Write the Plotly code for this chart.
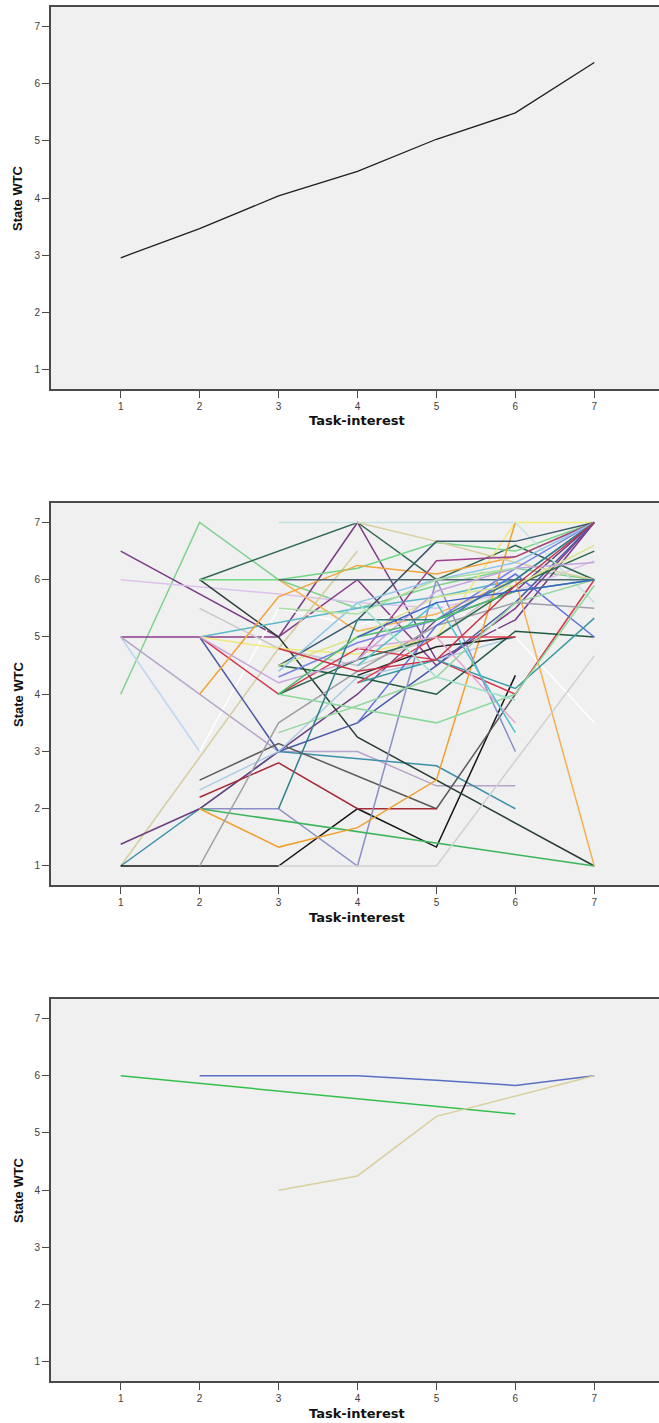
import plotly.graph_objects as go

# ---- panel 1: mean profile ----
mean_x = [1, 2, 3, 4, 5, 6, 7]
mean_y = [2.96, 3.47, 4.04, 4.47, 5.03, 5.49, 6.37]

# ---- panel 2: individual learner profiles (task-interest -> state WTC) ----
ind_x = [
    [1, 2, 3, 4, 5, 6, 7],
    [1, 3, 4, 5, 6, 7],
    [1, 3, 4, 5, 6, 7],
    [1, 2, 3, 4, 5, 6, 7],
    [1, 2],
    [2, 3, 4, 5, 6, 7],
    [1, 3, 4, 5, 6],
    [1, 3, 4],
    [1, 3, 5, 6],
    [1, 2, 3, 4, 5, 6, 7],
    [1, 3, 4, 5, 6],
    [2, 3, 4, 7],
    [2, 4, 5, 6, 7],
    [2, 3, 4, 5, 6, 7],
    [2, 3, 4, 5, 6, 7],
    [2, 3, 4, 5, 6, 7],
    [2, 3, 4, 5, 6, 7],
    [2, 3, 4, 5, 6, 7],
    [2, 3, 4, 5, 6, 7],
    [2, 3, 4, 5, 6, 7],
    [2, 3, 5, 6],
    [2, 3, 4, 5, 6],
    [2, 3, 4, 5],
    [2, 3, 4, 5, 6],
    [2, 3, 4, 5, 6, 7],
    [2, 3, 4, 5, 6],
    [3, 4, 5, 6, 7],
    [3, 4, 5, 7],
    [2, 3, 4, 5, 6, 7],
    [3, 4, 5, 6, 7],
    [4, 5, 6, 7],
    [3, 4, 5, 6, 7],
    [4, 5, 6, 7],
    [3, 4, 5, 6, 7],
    [3, 4, 5, 6, 7],
    [3, 4, 5, 6, 7],
    [4, 5, 6, 7],
    [4, 5, 6, 7],
    [3, 4, 5, 6, 7],
    [4, 5, 6],
    [4, 5, 6],
    [4, 5, 6],
    [4, 5, 6],
    [3, 4, 5, 6, 7],
    [3, 4, 5, 6, 7],
    [3, 4, 5, 6, 7],
    [3, 4, 5, 6, 7],
    [3, 4, 5, 6, 7],
    [2, 3, 4, 5, 6, 7],
    [3, 4, 5, 6, 7],
    [4, 5, 6, 7],
    [3, 4, 5, 6, 7],
    [4, 5, 6],
    [3, 4, 5, 6],
]
ind_y = [
    [4, 7, 6, 5.5, 5.9, 6.2, 6],
    [6.5, 5, 7, 4.6, 5.3, 7],
    [6, 5.75, 5.6, 5.5, 5.8, 6.33],
    [5, 5, 5, 6, 4.5, 5.5, 7],
    [5, 3],
    [3, 5.5, 5.2, 5.6, 5, 3.5],
    [5, 3, 3, 2.4, 2.4],
    [1, 4.8, 6.5],
    [1, 3, 2.75, 2],
    [1.38, 2, 3, 4, 5.3, 5.8, 7],
    [1, 1, 2, 1.33, 4.33],
    [6, 5, 3.25, 1],
    [6, 7, 6, 6.6, 6],
    [6, 6, 6.2, 6.65, 6.5, 7],
    [5.5, 4.8, 4.5, 5, 6, 7],
    [5, 5.25, 5.5, 5.7, 6, 7],
    [5, 4.8, 4.7, 5, 7, 7],
    [5, 4, 4.8, 4.6, 4, 6],
    [5, 3, 3.5, 4.5, 5.6, 7],
    [4, 5.7, 6.25, 6.1, 6.4, 7],
    [2.5, 3.14, 2, 4],
    [2.33, 3, 4.3, 4.6, 5],
    [2.2, 2.8, 2, 2],
    [2, 2, 1, 6, 3],
    [2, 1.8, 1.6, 1.4, 1.2, 1],
    [2, 1.33, 1.67, 2.5, 7],
    [6, 5.1, 5.4, 6, 1],
    [1, 1, 1, 4.67],
    [1, 3.5, 4.4, 5.2, 5.6, 5.5],
    [7, 7, 7, 7, 5.6],
    [7, 6.67, 6.3, 6],
    [4.5, 5.3, 6.67, 6.67, 7],
    [4.6, 6.33, 6.4, 7],
    [6, 6, 6, 6, 6],
    [4, 4.6, 5, 5.9, 6.5],
    [4.5, 4.3, 4, 5.1, 5],
    [3.5, 5.2, 6.1, 5],
    [4.2, 4.6, 4.1, 5.33],
    [4, 3.75, 3.5, 4, 5.9],
    [4.33, 4.83, 5],
    [4.2, 5, 5],
    [4.8, 5, 3.5],
    [4.5, 5.6, 3.33],
    [3.33, 3.8, 4.3, 5.6, 6],
    [4.3, 4.9, 5.3, 6.2, 7],
    [4.5, 5, 5.7, 5.9, 6.6],
    [4.4, 5.6, 6, 6.3, 7],
    [2, 5.3, 5.3, 6, 7],
    [5, 4.2, 4.6, 5.8, 6.2, 6.3],
    [4, 5, 5.3, 5.8, 6],
    [5, 5.6, 5.8, 6],
    [4.8, 4.4, 4.6, 5.9, 7],
    [5.6, 4.3, 3.9],
    [5.5, 5.4, 6, 6.2],
]

# ---- panel 3: selected learners ----
sel_x = [[2, 3, 4, 5, 6, 7], [1, 6], [3, 4, 5, 7]]
sel_y = [[6, 6, 6, 5.92, 5.83, 6], [6, 5.33], [4, 4.25, 5.29, 6]]

X_TICKS = [1, 2, 3, 4, 5, 6, 7]
Y_TICKS = [1, 2, 3, 4, 5, 6, 7]

ind_colors = [
    "#7fd28e", "#7a3c88", "#dcc3ec", "#8a3b8c", "#bcd6ee", "#ffffff",
    "#b4a4c8", "#d4cd9c", "#3a8fa8", "#6e3f82", "#151515", "#2a3d36",
    "#2f6650", "#6fd684", "#c8c8c8", "#5bb8c6", "#efe97a", "#d6354a",
    "#4a5aa8", "#f2a33a", "#5a5a5a", "#a9cde5", "#a52a38", "#8a8fc8",
    "#3ab55a", "#f0a030", "#f5b050", "#d0d0d0", "#9e9ea8", "#c2e2e2",
    "#d7cf9e", "#3c5a6e", "#a0418f", "#4a6670", "#2e6b4f", "#1f5a40",
    "#5a6ee0", "#3a9aa3", "#8bd99b", "#262626", "#e0404f", "#e2a8d0",
    "#4fc0d0", "#96d6a2", "#7b84e6", "#d8e68a", "#8fc6ea", "#2f7f8a",
    "#c4a6df", "#4cc06a", "#3d63c8", "#c8324a", "#9fe0c8", "#a8e0a0",
]
sel_colors = ["#5a6fc4", "#35c04c", "#d8d09e"]

BG = "#f0f0f0"
AXIS = "#4a4a4a"

fig = go.Figure()

fig.add_trace(go.Scatter(x=mean_x, y=mean_y, mode="lines",
                         line=dict(color="#1e1e1e", width=1.3),
                         xaxis="x", yaxis="y", showlegend=False))

for xs, ys, c in zip(ind_x, ind_y, ind_colors):
    fig.add_trace(go.Scatter(x=xs, y=ys, mode="lines",
                             line=dict(color=c, width=1.5),
                             xaxis="x2", yaxis="y2", showlegend=False))

for xs, ys, c in zip(sel_x, sel_y, sel_colors):
    fig.add_trace(go.Scatter(x=xs, y=ys, mode="lines",
                             line=dict(color=c, width=1.5),
                             xaxis="x3", yaxis="y3", showlegend=False))

H = 1423
TOP, BOT = 7, 42
span = H - TOP - BOT


def dom(top_px, bot_px):
    return [(H - BOT - bot_px) / span, (H - BOT - top_px) / span]


domains = [dom(7, 389), dom(503, 885), dom(999, 1381)]

tick_font = dict(family="Liberation Sans, Arial, sans-serif", size=10, color="#404040")

for i, d in enumerate(domains, start=1):
    sx = "" if i == 1 else str(i)
    fig.update_layout(**{
        f"xaxis{sx}": dict(
            domain=[0, 1], anchor=f"y{sx}", range=[0.117, 7.82],
            tickvals=X_TICKS, ticks="outside", ticklen=7, tickwidth=1.3,
            tickcolor=AXIS, showline=True, linecolor=AXIS, linewidth=2,
            mirror=True, showgrid=False, zeroline=False, tickfont=tick_font,
            fixedrange=True,
        ),
        f"yaxis{sx}": dict(
            domain=d, anchor=f"x{sx}", range=[0.668, 7.34],
            tickvals=Y_TICKS, ticks="outside", ticklen=7, tickwidth=1.3,
            tickcolor=AXIS, showline=True, linecolor=AXIS, linewidth=2,
            mirror=False, showgrid=False, zeroline=False, tickfont=tick_font,
            fixedrange=True,
        ),
    })
    fig.add_annotation(text="<b>Task-interest</b>", xref=f"x{sx}", x=4,
                       yref=f"y{sx} domain", y=0, yshift=-32,
                       showarrow=False, yanchor="middle", xanchor="center",
                       font=dict(family="DejaVu Sans, sans-serif", size=13, color="#111"))
    fig.add_annotation(text="<b>State WTC</b>", xref=f"x{sx} domain", x=0,
                       xshift=-33, yref=f"y{sx} domain", y=0.5,
                       showarrow=False, textangle=-90,
                       xanchor="center", yanchor="middle",
                       font=dict(family="Liberation Sans, Arial, sans-serif",
                                 size=13, color="#111"))

fig.update_layout(
    width=659, height=H,
    margin=dict(l=51, r=0, t=TOP, b=BOT),
    plot_bgcolor=BG, paper_bgcolor="white",
    showlegend=False,
)

fig.write_html("out.html", config={"displayModeBar": False})
